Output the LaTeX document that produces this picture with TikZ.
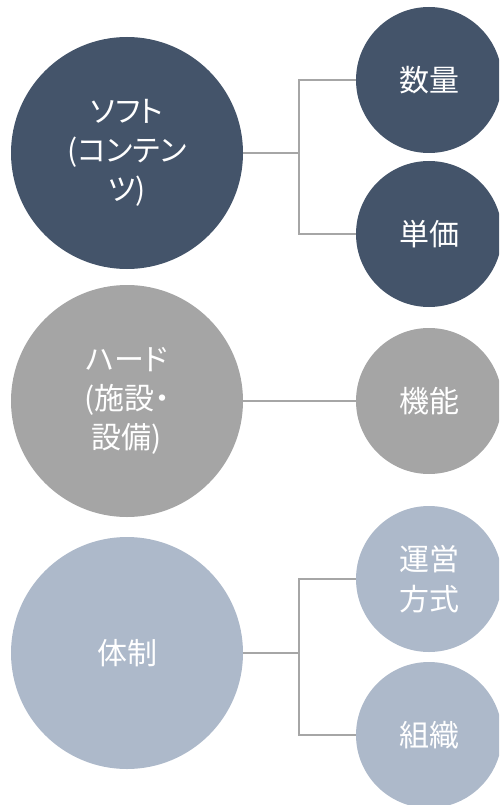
\documentclass[tikz,border=0pt]{standalone}
\usepackage{fontspec}
\newfontfamily\jpfont[RawFeature=+palt]{Noto Sans CJK JP}
\definecolor{softblue}{HTML}{44546A}
\definecolor{hardgray}{HTML}{A5A5A5}
\definecolor{orgblue}{HTML}{ADB9CA}
\definecolor{linkgray}{HTML}{A6A6A6}
\begin{document}
\begin{tikzpicture}[x=1pt, y=-1pt,
	big/.style={circle, inner sep=0pt, minimum size=232pt, text=white, align=center, font=\jpfont\fontsize{30}{39}\selectfont},
	small/.style={circle, inner sep=0pt, minimum size=146pt, text=white, align=center, font=\jpfont\fontsize{30}{40}\selectfont},
	link/.style={draw=linkgray, line width=1.5pt}]
	\useasboundingbox (0, 0) rectangle (499, 805);
	\clip (0, 0) rectangle (499, 805);
	% left column
	\node[big, fill=softblue] (1) at (127, 153) {ソフト\\(コンテン\\ツ)};
	\node[big, fill=hardgray] (2) at (127, 401) {ハード\\(施設・\\設備)};
	\node[big, fill=orgblue] (3) at (127, 653) {体制};
	% right column
	\node[small, fill=softblue] (4) at (429, 80) {数量};
	\node[small, fill=softblue] (5) at (429, 234) {単価};
	\node[small, fill=hardgray] (6) at (429, 401) {機能};
	\node[small, fill=orgblue] (7) at (429, 579) {運営\\方式};
	\node[small, fill=orgblue] (8) at (429, 735) {組織};
	% junctions
	\coordinate (j1) at (299, 153);
	\coordinate (j3) at (299, 653);
	\draw[link] (1) to (j1);
	\draw[link] (j1) |- (4);
	\draw[link] (j1) |- (5);
	\draw[link] (2) to (6);
	\draw[link] (3) to (j3);
	\draw[link] (j3) |- (7);
	\draw[link] (j3) |- (8);
\end{tikzpicture}
\end{document}
